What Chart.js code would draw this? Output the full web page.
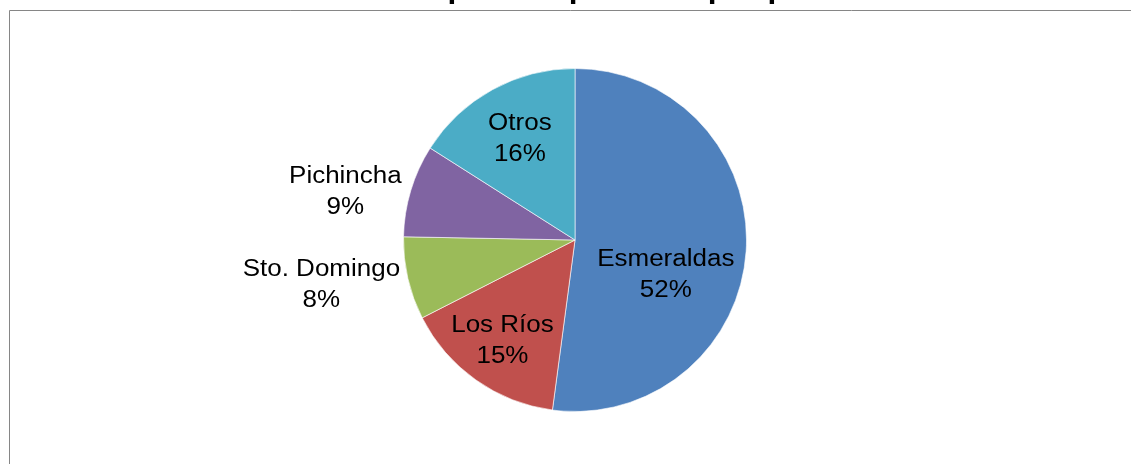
<!DOCTYPE html>
<html>
<head>
<meta charset="utf-8">
<script src="https://cdn.jsdelivr.net/npm/chart.js@4"></script>
<style>
  html, body { margin: 0; padding: 0; background: #fff; }
  #wrap { width: 1131px; height: 464px; position: relative; }
</style>
</head>
<body>
<div id="wrap"><canvas id="chart"></canvas></div>
<script>
// values (share of total, %)
const provincias = ['Esmeraldas', 'Los Ríos', 'Sto. Domingo', 'Pichincha', 'Otros']
const porcentajes = [52.1, 15.4, 7.8, 8.7, 16.0]
const colores = ['#4F81BD', '#C0504D', '#9BBB59', '#8064A2', '#4BACC6']
const titulo = 'Superficie plantada por provincia'

// where each label sits: fraction of the radius, and angle shift in degrees
const labelRadius = [0.565, 0.72, 1.5, 1.37, 0.68]
const labelShift = [16.7, 0.7, 3.3, -4.5, 0.6]

const FONT = '"Liberation Sans", Arial, sans-serif'
const STRETCH = 1.13

function drawText(ctx, text, x, y, font, align) {
  ctx.save()
  ctx.font = font
  ctx.textAlign = align || 'center'
  ctx.textBaseline = 'alphabetic'
  ctx.translate(x, y)
  ctx.scale(STRETCH, 1)
  ctx.fillText(text, 0, 0)
  ctx.restore()
}

const framePlugin = {
  id: 'frame',
  beforeDraw(chart) {
    const ctx = chart.ctx
    ctx.save()
    ctx.strokeStyle = '#868686'
    ctx.lineWidth = 1
    ctx.beginPath()
    ctx.moveTo(9.5, chart.height + 5)
    ctx.lineTo(9.5, 10.5)
    ctx.lineTo(chart.width + 5, 10.5)
    ctx.stroke()
    ctx.fillStyle = '#000'
    // title is cut off by the top of the image, only descenders show
    drawText(ctx, titulo, 407, -2, 'bold 28px ' + FONT, 'left')
    ctx.restore()
  }
}

const labelPlugin = {
  id: 'sliceLabels',
  afterDatasetsDraw(chart) {
    const ctx = chart.ctx
    const meta = chart.getDatasetMeta(0)
    const total = porcentajes.reduce((a, b) => a + b, 0)
    ctx.save()
    ctx.fillStyle = '#000'
    meta.data.forEach((arc, i) => {
      const p = arc.getProps(['x', 'y', 'startAngle', 'endAngle', 'outerRadius'], true)
      const mid = (p.startAngle + p.endAngle) / 2 + labelShift[i] * Math.PI / 180
      const r = p.outerRadius * labelRadius[i]
      const cx = p.x + Math.cos(mid) * r
      const cy = p.y + Math.sin(mid) * r
      const pct = Math.round(porcentajes[i] / total * 100) + '%'
      drawText(ctx, provincias[i], cx, cy - 7.5, '23px ' + FONT)
      drawText(ctx, pct, cx, cy + 23.5, '23px ' + FONT)
    })
    ctx.restore()
  }
}

new Chart(document.getElementById('chart'), {
  type: 'pie',
  data: {
    labels: provincias,
    datasets: [{
      data: porcentajes,
      backgroundColor: colores,
      borderColor: 'rgba(255,255,255,0.6)',
      borderWidth: 1,
    }]
  },
  options: {
    responsive: true,
    maintainAspectRatio: false,
    animation: false,
    layout: { padding: { left: 300, right: 281, top: 68, bottom: 52 } },
    plugins: {
      legend: { display: false },
      tooltip: { enabled: false },
      title: { display: false },
    }
  },
  plugins: [framePlugin, labelPlugin]
})
</script>
</body>
</html>
